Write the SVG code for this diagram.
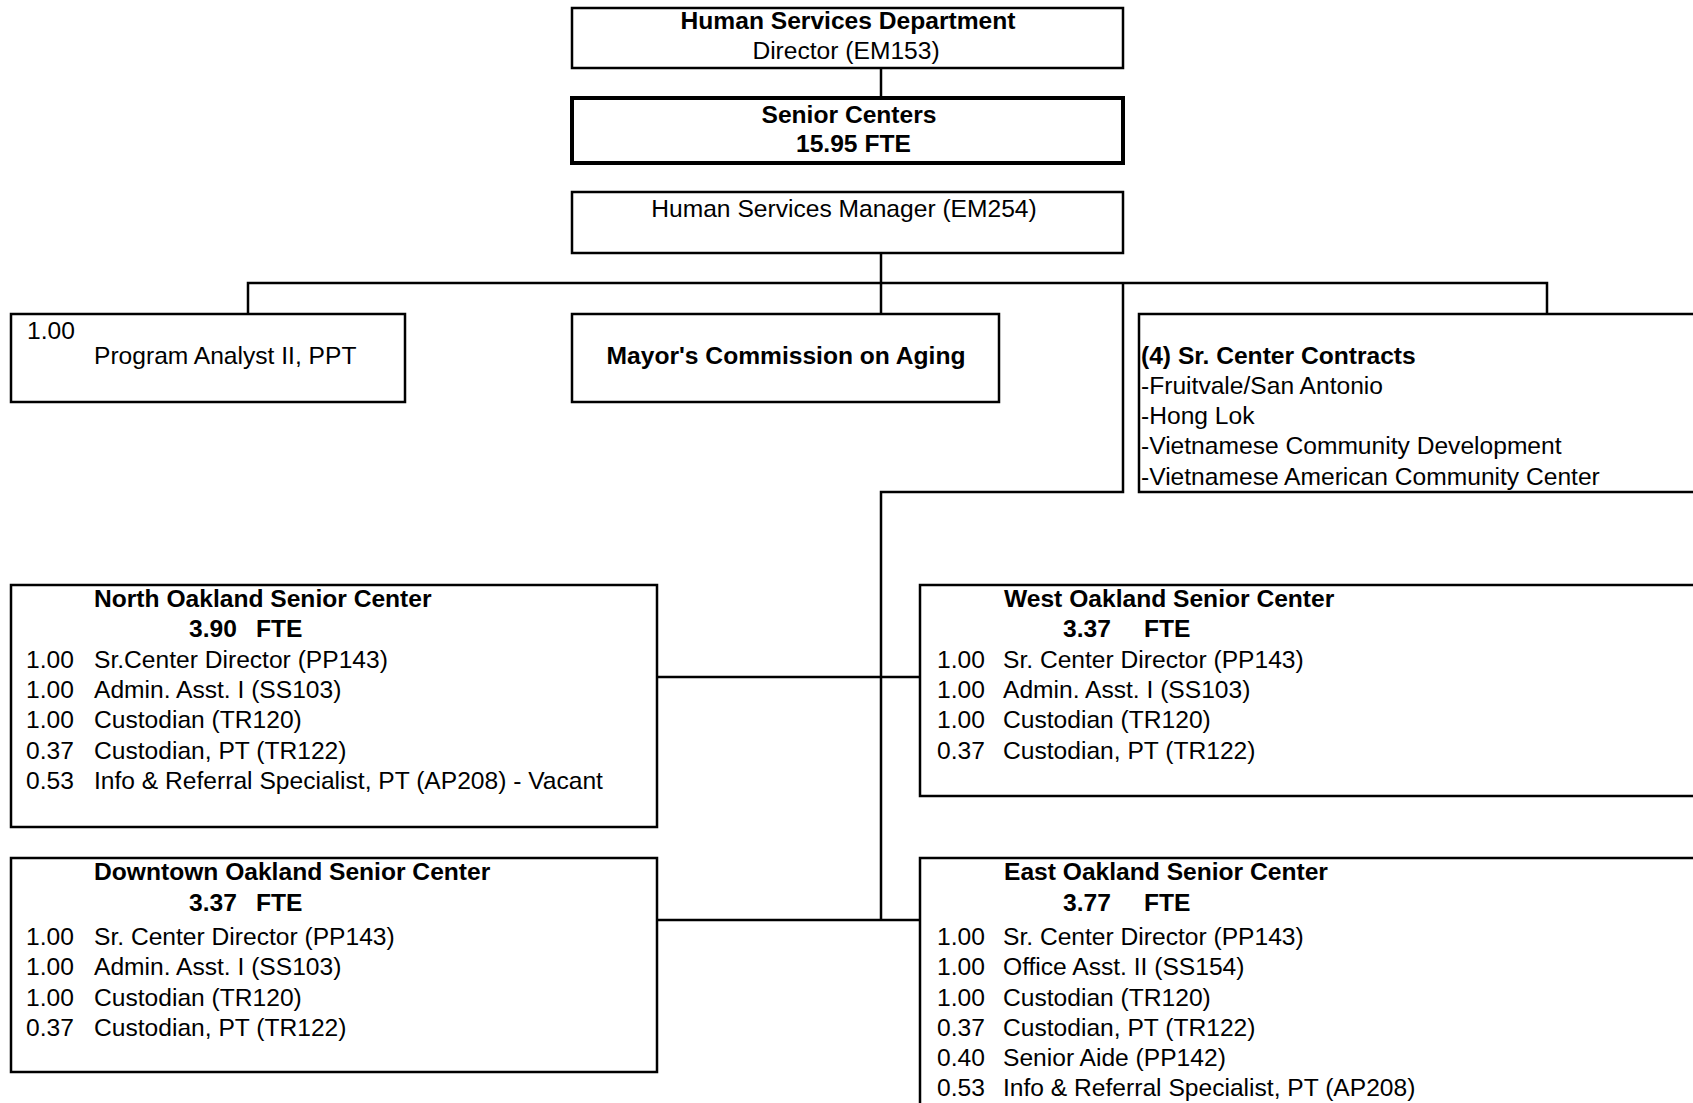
<svg xmlns="http://www.w3.org/2000/svg" width="1693" height="1103" viewBox="0 0 1693 1103">
  <style>
    text { font-family: "Liberation Sans", Arial, sans-serif; font-size: 24.6px; fill: #000; }
    .b { font-weight: bold; }
    .c { text-anchor: middle; }
    .box { fill: #fff; stroke: #000; stroke-width: 2.5; }
    .thick { fill: #fff; stroke: #000; stroke-width: 4; }
    .wire { fill: none; stroke: #000; stroke-width: 2.5; }
  </style>
  <rect width="1693" height="1103" fill="#fff"/>

  <g id="connectors">
    <path class="wire" d="M881 68 V98"/>
    <path class="wire" d="M881 253 V283"/>
    <path class="wire" d="M248 314 V283 H1547 V314"/>
    <path class="wire" d="M881 283 V314"/>
    <path class="wire" d="M1123 283 V492 H881 V920"/>
    <path class="wire" d="M657 677 H920"/>
    <path class="wire" d="M657 920 H920"/>
  </g>

  <g id="hsd-director">
    <rect class="box" x="572" y="8" width="551" height="60"/>
    <text class="b c" x="848" y="29">Human Services Department</text>
    <text class="c" x="846" y="59">Director (EM153)</text>
  </g>

  <g id="senior-centers">
    <rect class="thick" x="572" y="98" width="551" height="65"/>
    <text class="b c" x="849" y="123">Senior Centers</text>
    <text class="b" x="796" y="152">15.95  FTE</text>
  </g>

  <g id="hs-manager">
    <rect class="box" x="572" y="192" width="551" height="61"/>
    <text class="c" x="844" y="217">Human Services Manager (EM254)</text>
  </g>

  <g id="program-analyst">
    <rect class="box" x="11" y="314" width="394" height="88"/>
    <text x="27" y="339">1.00</text>
    <text x="94" y="364">Program Analyst II, PPT</text>
  </g>

  <g id="mayors-commission">
    <rect class="box" x="572" y="314" width="427" height="88"/>
    <text class="b c" x="786" y="364">Mayor's Commission on Aging</text>
  </g>

  <g id="contracts">
    <rect class="box" x="1139" y="314" width="600" height="178"/>
    <text class="b" x="1141" y="364">(4) Sr. Center Contracts</text>
    <text x="1141" y="394">-Fruitvale/San Antonio</text>
    <text x="1141" y="424">-Hong Lok</text>
    <text x="1141" y="454">-Vietnamese Community Development</text>
    <text x="1141" y="485">-Vietnamese American Community Center</text>
  </g>

  <g id="north-oakland">
    <rect class="box" x="11" y="585" width="646" height="242"/>
    <text class="b" x="94" y="607">North Oakland Senior Center</text>
    <text class="b" x="189" y="637">3.90<tspan x="256">FTE</tspan></text>
    <text x="26" y="668">1.00<tspan x="94">Sr.Center Director (PP143)</tspan></text>
    <text x="26" y="698">1.00<tspan x="94">Admin. Asst. I (SS103)</tspan></text>
    <text x="26" y="728">1.00<tspan x="94">Custodian (TR120)</tspan></text>
    <text x="26" y="759">0.37<tspan x="94">Custodian, PT (TR122)</tspan></text>
    <text x="26" y="789">0.53<tspan x="94">Info &amp; Referral Specialist, PT (AP208) - Vacant</tspan></text>
  </g>

  <g id="west-oakland">
    <rect class="box" x="920" y="585" width="800" height="211"/>
    <text class="b" x="1004" y="607">West Oakland Senior Center</text>
    <text class="b" x="1063" y="637">3.37<tspan x="1144">FTE</tspan></text>
    <text x="937" y="668">1.00<tspan x="1003">Sr. Center Director (PP143)</tspan></text>
    <text x="937" y="698">1.00<tspan x="1003">Admin. Asst. I (SS103)</tspan></text>
    <text x="937" y="728">1.00<tspan x="1003">Custodian (TR120)</tspan></text>
    <text x="937" y="759">0.37<tspan x="1003">Custodian, PT (TR122)</tspan></text>
  </g>

  <g id="downtown-oakland">
    <rect class="box" x="11" y="858" width="646" height="214"/>
    <text class="b" x="94" y="880">Downtown Oakland Senior Center</text>
    <text class="b" x="189" y="911">3.37<tspan x="256">FTE</tspan></text>
    <text x="26" y="945">1.00<tspan x="94">Sr. Center Director (PP143)</tspan></text>
    <text x="26" y="975">1.00<tspan x="94">Admin. Asst. I (SS103)</tspan></text>
    <text x="26" y="1006">1.00<tspan x="94">Custodian (TR120)</tspan></text>
    <text x="26" y="1036">0.37<tspan x="94">Custodian, PT (TR122)</tspan></text>
  </g>

  <g id="east-oakland">
    <rect class="box" x="920" y="858" width="800" height="280"/>
    <text class="b" x="1004" y="880">East Oakland Senior Center</text>
    <text class="b" x="1063" y="911">3.77<tspan x="1144">FTE</tspan></text>
    <text x="937" y="945">1.00<tspan x="1003">Sr. Center Director (PP143)</tspan></text>
    <text x="937" y="975">1.00<tspan x="1003">Office Asst. II (SS154)</tspan></text>
    <text x="937" y="1006">1.00<tspan x="1003">Custodian (TR120)</tspan></text>
    <text x="937" y="1036">0.37<tspan x="1003">Custodian, PT (TR122)</tspan></text>
    <text x="937" y="1066">0.40<tspan x="1003">Senior Aide (PP142)</tspan></text>
    <text x="937" y="1096">0.53<tspan x="1003">Info &amp; Referral Specialist, PT (AP208)</tspan></text>
  </g>
</svg>
